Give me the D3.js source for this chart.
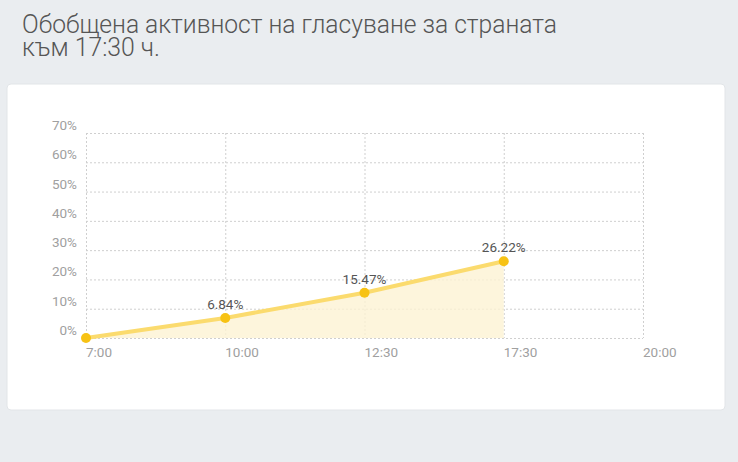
<!DOCTYPE html>
<html>
<head>
<meta charset="utf-8">
<script src="https://cdn.jsdelivr.net/npm/d3@7"></script>
<style>
  html, body { margin: 0; padding: 0; background: #eaedf0; }
  svg { display: block; font-family: Roboto, "Noto Sans", sans-serif; }
</style>
</head>
<body>
<svg id="chart" width="738" height="462"></svg>
<script>
// data
var titleLines = ["Обобщена активност на гласуване за страната", "към 17:30 ч."];
var hours = ["7:00", "10:00", "12:30", "17:30", "20:00"];
var turnout = [0, 6.84, 15.47, 26.22];       // % for the first four hours
var yTicks = [0, 10, 20, 30, 40, 50, 60, 70];

var svg = d3.select("#chart");

// title
var title = svg.append("g").attr("fill", "#555").style("font-weight", 300).style("font-size", "26px");
title.append("text").attr("x", 22).attr("y", 33)
    .attr("textLength", 535).attr("lengthAdjust", "spacingAndGlyphs")
    .text(titleLines[0]);
title.append("text").attr("x", 22).attr("y", 56)
    .attr("textLength", 138).attr("lengthAdjust", "spacingAndGlyphs")
    .text(titleLines[1]);

// card
svg.append("rect")
    .attr("x", 7).attr("y", 84).attr("width", 718).attr("height", 326)
    .attr("rx", 4)
    .attr("fill", "#fff")
    .attr("stroke", "#e2e5e8");

var plotLeft = 86, plotRight = 643, plotTop = 133, plotBottom = 338;

var x = d3.scalePoint().domain(hours).range([plotLeft, plotRight]);
var y = d3.scaleLinear().domain([0, 70]).range([plotBottom, plotTop]);

var g = svg.append("g");

// horizontal grid + y labels
g.append("g")
    .selectAll("line")
    .data(yTicks)
    .enter().append("line")
    .attr("x1", plotLeft).attr("x2", plotRight)
    .attr("y1", function (d) { return y(d) + 0.5; })
    .attr("y2", function (d) { return y(d) + 0.5; })
    .attr("stroke", "#cfcfcf")
    .attr("stroke-dasharray", "2,2");

g.append("g")
    .selectAll("text")
    .data(yTicks)
    .enter().append("text")
    .attr("x", 77)
    .attr("y", function (d) { return y(d) - 3; })
    .attr("text-anchor", "end")
    .attr("fill", "#a0a0a0")
    .style("font-size", "13.5px")
    .text(function (d) { return d + "%"; });

// vertical grid + x labels
g.append("g")
    .selectAll("line")
    .data(hours)
    .enter().append("line")
    .attr("x1", function (d) { return x(d) + 0.5; })
    .attr("x2", function (d) { return x(d) + 0.5; })
    .attr("y1", plotTop).attr("y2", plotBottom)
    .attr("stroke", "#cfcfcf")
    .attr("stroke-dasharray", "2,2");

g.append("g")
    .selectAll("text")
    .data(hours)
    .enter().append("text")
    .attr("x", function (d) { return x(d); })
    .attr("y", 357)
    .attr("fill", "#a0a0a0")
    .style("font-size", "13.5px")
    .text(function (d) { return d; });

var data = turnout.map(function (v, i) { return {h: hours[i], v: v}; });

// area
var area = d3.area()
    .x(function (d) { return x(d.h); })
    .y0(y(0))
    .y1(function (d) { return y(d.v); });

g.append("path")
    .datum(data)
    .attr("d", area)
    .attr("fill", "#fdf3d3")
    .attr("fill-opacity", 0.8);

// line
var line = d3.line()
    .x(function (d) { return x(d.h); })
    .y(function (d) { return y(d.v); });

g.append("path")
    .datum(data)
    .attr("d", line)
    .attr("fill", "none")
    .attr("stroke", "#fbdb6e")
    .attr("stroke-width", 4);

// points
g.selectAll("circle.pt")
    .data(data)
    .enter().append("circle")
    .attr("class", "pt")
    .attr("cx", function (d) { return x(d.h); })
    .attr("cy", function (d) { return y(d.v); })
    .attr("r", 5)
    .attr("fill", "#f7c214");

// value labels
g.selectAll("text.val")
    .data(data.filter(function (d) { return d.v > 0; }))
    .enter().append("text")
    .attr("class", "val")
    .attr("x", function (d) { return x(d.h); })
    .attr("y", function (d) { return y(d.v) - 9; })
    .attr("text-anchor", "middle")
    .attr("fill", "#555")
    .style("font-size", "13.5px")
    .text(function (d) { return d.v.toFixed(2) + "%"; });
</script>
</body>
</html>
